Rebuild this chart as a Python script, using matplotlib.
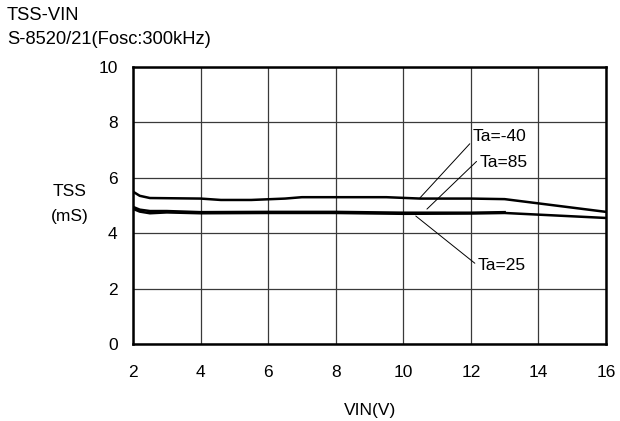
import matplotlib
matplotlib.use('Agg')
import matplotlib.pyplot as plt

plt.rcParams['font.family'] = ['Liberation Sans', 'DejaVu Sans']

# Ta=-40
vin_m40 = [2.0, 2.2, 2.5, 4.0, 4.6, 5.5, 6.5, 7.0, 9.5, 10.5, 12.0, 13.0, 16.0]
tss_m40 = [5.50, 5.35, 5.27, 5.25, 5.20, 5.20, 5.25, 5.30, 5.30, 5.25, 5.25, 5.23, 4.77]
# Ta=85
vin_85 = [2.0, 2.2, 2.5, 3.0, 4.0, 6.0, 8.0, 10.0, 12.0, 13.0]
tss_85 = [4.95, 4.85, 4.80, 4.80, 4.76, 4.77, 4.77, 4.74, 4.74, 4.76]
# Ta=25
vin_25 = [2.0, 2.2, 2.5, 3.0, 4.0, 6.0, 8.0, 10.0, 12.0, 13.0, 16.0]
tss_25 = [4.88, 4.78, 4.72, 4.75, 4.72, 4.73, 4.73, 4.70, 4.71, 4.73, 4.55]

x_ticks = [2, 4, 6, 8, 10, 12, 14, 16]
y_ticks = [0, 2, 4, 6, 8, 10]

FS = 12.5

fig = plt.figure(figsize=(6.2, 4.21), dpi=100)
ax = fig.add_axes([133 / 620, 1 - 344 / 421, 473 / 620, 277 / 421])

for xs, ys in [(vin_m40, tss_m40), (vin_85, tss_85), (vin_25, tss_25)]:
    ax.plot(xs, ys, color='black', lw=1.8, zorder=3)

ax.set_xlim(2, 16)
ax.set_ylim(0, 10)
ax.set_xticks(x_ticks)
ax.set_yticks(y_ticks)
ax.tick_params(axis='x', length=0, labelsize=FS, pad=15)
ax.tick_params(axis='y', length=0, labelsize=FS, pad=11)
ax.grid(color='#3a3a3a', lw=0.9, zorder=0)
for sp in ax.spines.values():
    sp.set_linewidth(1.8)
    sp.set_color('black')

# annotations
ax.annotate('Ta=-40', xy=(10.49, 5.27), xytext=(12.05, 7.5),
            fontsize=FS, va='center', ha='left',
            arrowprops=dict(arrowstyle='-', lw=0.7, color='black',
                            shrinkA=0, shrinkB=0, relpos=(0, 0.2)))
ax.annotate('Ta=85', xy=(10.7, 4.87), xytext=(12.25, 6.55),
            fontsize=FS, va='center', ha='left',
            arrowprops=dict(arrowstyle='-', lw=0.7, color='black',
                            shrinkA=0, shrinkB=0, relpos=(-0.05, 0.6)))
ax.annotate('Ta=25', xy=(10.37, 4.62), xytext=(12.2, 2.85),
            fontsize=FS, va='center', ha='left',
            arrowprops=dict(arrowstyle='-', lw=0.7, color='black',
                            shrinkA=0, shrinkB=0, relpos=(-0.05, 0.6)))

fig.text(7 / 620, 1 - 15 / 421, 'TSS-VIN', fontsize=13.2, va='center', ha='left')
fig.text(7 / 620, 1 - 40 / 421, 'S-8520/21(Fosc:300kHz)', fontsize=13.2,
         va='center', ha='left')
fig.text(70 / 620, 1 - 204 / 421, 'TSS\n(mS)', fontsize=FS, va='center',
         ha='center', linespacing=1.9)
fig.text(370 / 620, 1 - 410 / 421, 'VIN(V)', fontsize=FS, va='center',
         ha='center')

fig.savefig('out.png', dpi=100)
